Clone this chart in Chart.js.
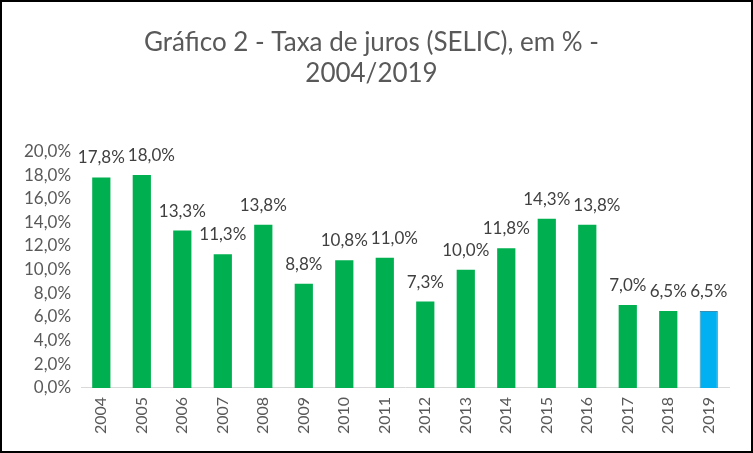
<!DOCTYPE html>
<html>
<head>
<meta charset="utf-8">
<script src="https://cdn.jsdelivr.net/npm/chart.js@4"></script>
<style>
  html, body { margin: 0; padding: 0; background: #fff; }
  #wrap { width: 753px; height: 453px; box-sizing: border-box; border: 2px solid #000; }
  canvas { display: block; }
</style>
</head>
<body>
<div id="wrap"><canvas id="chart" width="749" height="449"></canvas></div>
<script>
const years = ['2004', '2005', '2006', '2007', '2008', '2009', '2010', '2011',
               '2012', '2013', '2014', '2015', '2016', '2017', '2018', '2019'];
const selic = [17.8, 18.0, 13.3, 11.3, 13.8, 8.8, 10.8, 11.0,
               7.3, 10.0, 11.8, 14.3, 13.8, 7.0, 6.5, 6.5];
const titleLines = ['Gráfico 2 - Taxa de juros (SELIC), em % -', '2004/2019'];

const fmt = v => v.toFixed(1).replace('.', ',') + '%';
const FONT = 'Lato, "Open Sans", sans-serif';

// draws the value above each bar, nudging right when it would hit the previous label
const barLabels = {
    id: 'barLabels',
    afterDatasetsDraw(chart) {
        const ctx = chart.ctx;
        const meta = chart.getDatasetMeta(0);
        ctx.save();
        ctx.font = '17px ' + FONT;
        ctx.fillStyle = '#404040';
        ctx.textAlign = 'center';
        ctx.textBaseline = 'alphabetic';
        let prev = null;
        meta.data.forEach((bar, i) => {
            const txt = fmt(selic[i]);
            const w = ctx.measureText(txt).width;
            let x = bar.x;
            const y = bar.y - 14;
            if (prev && Math.abs(prev.y - y) < 16 && x - w / 2 < prev.right + 3) {
                x = prev.right + 3 + w / 2;
            }
            ctx.fillText(txt, x, y);
            prev = { right: x + w / 2, y: y };
        });
        ctx.restore();
    }
};

new Chart(document.getElementById('chart'), {
    type: 'bar',
    data: {
        labels: years,
        datasets: [{
            data: selic,
            backgroundColor: years.map((y, i) => i === years.length - 1 ? '#00B0F0' : '#00B050'),
            borderColor: years.map((y, i) => i === years.length - 1 ? '#3a8fb0' : '#00B050'),
            borderWidth: years.map((y, i) => i === years.length - 1 ? 1 : 0),
            barPercentage: 0.9,
            categoryPercentage: 0.5
        }]
    },
    options: {
        responsive: false,
        animation: false,
        layout: { padding: { left: 12, right: 22, top: 0, bottom: 8 } },
        plugins: {
            legend: { display: false },
            tooltip: { enabled: false },
            title: {
                display: true,
                text: titleLines,
                color: '#595959',
                font: { family: FONT, size: 26, weight: 'normal', lineHeight: 1.2 },
                padding: { top: 25, bottom: 62 }
            }
        },
        scales: {
            x: {
                grid: { display: false, drawTicks: false },
                border: { display: true, color: '#d9d9d9', width: 1 },
                ticks: {
                    color: '#595959',
                    font: { family: FONT, size: 16 },
                    maxRotation: 90,
                    minRotation: 90,
                    padding: 9
                }
            },
            y: {
                min: 0,
                max: 20,
                grid: { display: false, drawTicks: false },
                border: { display: false },
                ticks: {
                    stepSize: 2,
                    color: '#595959',
                    font: { family: FONT, size: 17 },
                    padding: 10,
                    callback: v => fmt(v)
                }
            }
        }
    },
    plugins: [barLabels]
});
</script>
</body>
</html>
